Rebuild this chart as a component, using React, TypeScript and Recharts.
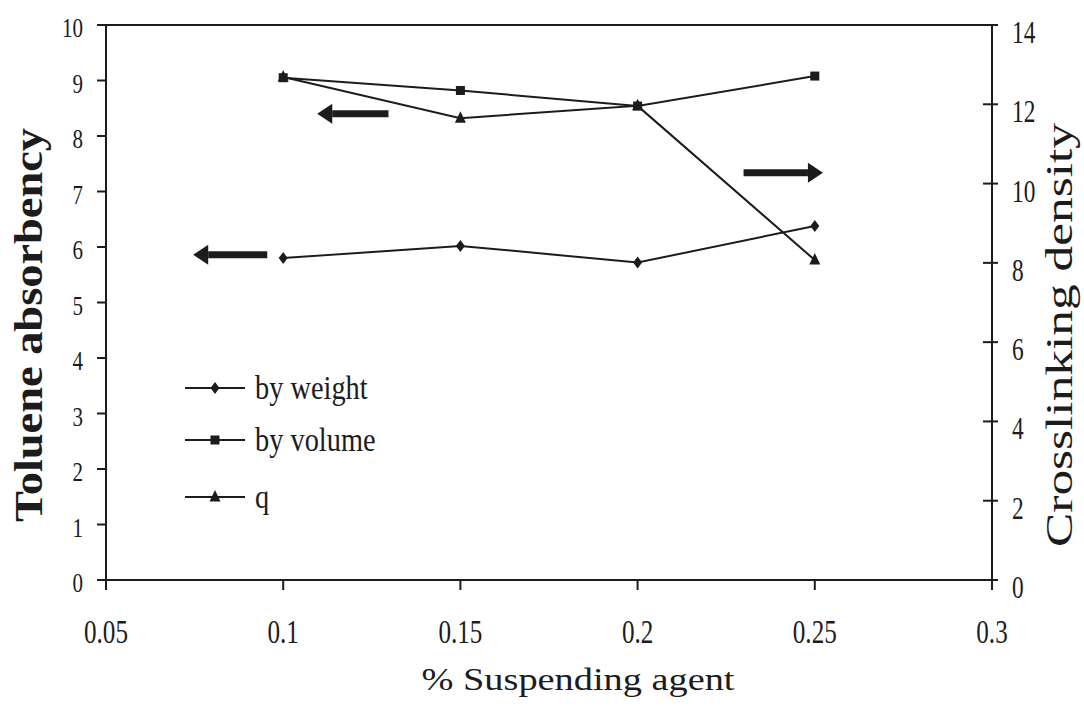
import React from 'react'
import { LineChart, Line, XAxis, YAxis, ReferenceLine, Label } from 'recharts'

const INK = '#1c1c1c'
const SERIF = '"Liberation Serif", "Times New Roman", serif'

// % suspending agent
const X_VALUES = [0.1, 0.15, 0.2, 0.25]
// toluene absorbency (left axis)
const BY_WEIGHT = [5.8, 6.02, 5.72, 6.38]
const BY_VOLUME = [9.05, 8.82, 8.54, 9.08]
// crosslinking density (right axis)
const Q_VALUES = [12.69, 11.65, 11.96, 8.07]

const X_TICKS = [0.05, 0.1, 0.15, 0.2, 0.25, 0.3]
const LEFT_TICKS = [0, 1, 2, 3, 4, 5, 6, 7, 8, 9, 10]
const RIGHT_TICKS = [0, 2, 4, 6, 8, 10, 12, 14]

// arrows pointing each group of curves to its axis
const ARROWS = [
  { from: 0.1297, to: 0.1096, level: 8.4, axis: 'left' },
  { from: 0.0955, to: 0.0746, level: 5.86, axis: 'left' },
  { from: 0.2299, to: 0.2523, level: 10.27, axis: 'right' },
]

const LEGEND_ITEMS = [
  { name: 'by weight', marker: 'diamond' },
  { name: 'by volume', marker: 'square' },
  { name: 'q', marker: 'triangle' },
]

const data = X_VALUES.map((x, i) => ({
  x,
  weight: BY_WEIGHT[i],
  volume: BY_VOLUME[i],
  q: Q_VALUES[i],
}))

function marker(kind: string, cx: number, cy: number) {
  if (kind === 'diamond') {
    return <path d={`M${cx},${cy - 6}L${cx + 4.5},${cy}L${cx},${cy + 6}L${cx - 4.5},${cy}Z`} fill={INK} />
  }
  if (kind === 'square') {
    return <rect x={cx - 4.5} y={cy - 4.5} width={9} height={9} fill={INK} />
  }
  return <path d={`M${cx},${cy - 7}L${cx + 5.5},${cy + 4.5}L${cx - 5.5},${cy + 4.5}Z`} fill={INK} />
}

const dotOf = (kind: string) => (props: any) => (
  <g key={`${kind}-${props.index}`}>{marker(kind, props.cx, props.cy)}</g>
)

const LeftTick = ({ x, y, payload }: any) => (
  <g>
    <line x1={x - 9} y1={y} x2={x} y2={y} stroke={INK} strokeWidth={2} />
    <text
      transform={`translate(${x - 23},${y + 12}) scale(0.75,1)`}
      textAnchor="end"
      fontSize={28}
      fontFamily={SERIF}
      fill={INK}
    >
      {payload.value}
    </text>
  </g>
)

const RightTick = ({ x, y, payload }: any) => (
  <g>
    <line x1={x - 9} y1={y} x2={x + 6} y2={y} stroke={INK} strokeWidth={2} />
    <text
      transform={`translate(${x + 20},${y + 18}) scale(0.73,1)`}
      textAnchor="start"
      fontSize={32}
      fontFamily={SERIF}
      fill={INK}
    >
      {payload.value}
    </text>
  </g>
)

const BottomTick = ({ x, y, payload }: any) => (
  <g>
    <line x1={x} y1={y} x2={x} y2={y + 10} stroke={INK} strokeWidth={2} />
    <text
      transform={`translate(${x},${y + 63}) scale(0.74,1)`}
      textAnchor="middle"
      fontSize={34}
      fontFamily={SERIF}
      fill={INK}
    >
      {String(payload.value)}
    </text>
  </g>
)

const Arrow = (props: any) => {
  const { x1, y1, x2, y2 } = props
  const dir = x2 > x1 ? 1 : -1
  const base = x2 - dir * 15
  return (
    <g>
      <line x1={x1} y1={y1} x2={base} y2={y2} stroke={INK} strokeWidth={7} />
      <path d={`M${x2},${y2}L${base},${y2 - 10}L${base},${y2 + 10}Z`} fill={INK} />
    </g>
  )
}

// legend sits inside the plot, lower left
const LegendBox = () => (
  <svg width={240} height={160} style={{ position: 'absolute', left: 180, top: 360 }}>
    {LEGEND_ITEMS.map((item, i) => {
      const cy = [28, 80, 137][i]
      return (
        <g key={item.name}>
          <line x1={5} y1={cy} x2={65} y2={cy} stroke={INK} strokeWidth={2} />
          {marker(item.marker, 35, cy)}
          <text
            transform={`translate(75,${cy + 11}) scale(0.86,1)`}
            fontSize={33}
            fontFamily={SERIF}
            fill={INK}
          >
            {item.name}
          </text>
        </g>
      )
    })}
  </svg>
)

export default function App() {
  return (
    <div style={{ position: 'absolute', left: 0, top: 0, width: 1084, height: 713, background: '#fff' }}>
      <LineChart width={1084} height={713} data={data} margin={{ top: 25, right: 0, bottom: 0, left: 0 }}>
        <XAxis
          dataKey="x"
          type="number"
          domain={[0.05, 0.3]}
          ticks={X_TICKS}
          height={133}
          tickSize={0}
          tickMargin={0}
          tickLine={false}
          tick={<BottomTick />}
          axisLine={{ stroke: INK, strokeWidth: 2 }}
        >
          <Label
            content={() => (
              <text x={578} y={690} textAnchor="middle" fontSize={31} textLength={313} lengthAdjust="spacingAndGlyphs" fontFamily={SERIF} fill={INK}>
                % Suspending agent
              </text>
            )}
          />
        </XAxis>
        <YAxis
          yAxisId="left"
          domain={[0, 10]}
          ticks={LEFT_TICKS}
          width={106}
          tickSize={0}
          tickMargin={0}
          tickLine={false}
          tick={<LeftTick />}
          axisLine={{ stroke: INK, strokeWidth: 2 }}
        >
          <Label
            content={() => (
              <text transform="translate(42,325) rotate(-90)" textAnchor="middle" fontSize={40} fontWeight="bold" textLength={394} lengthAdjust="spacingAndGlyphs" fontFamily={SERIF} fill={INK}>
                Toluene absorbency
              </text>
            )}
          />
        </YAxis>
        <YAxis
          yAxisId="right"
          orientation="right"
          domain={[0, 14]}
          ticks={RIGHT_TICKS}
          width={92}
          tickSize={0}
          tickMargin={0}
          tickLine={false}
          tick={<RightTick />}
          axisLine={{ stroke: INK, strokeWidth: 2 }}
        >
          <Label
            content={() => (
              <text transform="translate(1072,335) rotate(-90)" textAnchor="middle" fontSize={38} textLength={424} lengthAdjust="spacingAndGlyphs" fontFamily={SERIF} fill={INK}>
                Crosslinking density
              </text>
            )}
          />
        </YAxis>
        <ReferenceLine yAxisId="left" y={10} stroke={INK} strokeWidth={2} />
        {ARROWS.map((a, i) => (
          <ReferenceLine
            key={i}
            yAxisId={a.axis}
            segment={[{ x: a.from, y: a.level }, { x: a.to, y: a.level }]}
            shape={<Arrow />}
          />
        ))}
        <Line yAxisId="left" type="linear" dataKey="weight" name="by weight" stroke={INK} strokeWidth={2} dot={dotOf('diamond')} activeDot={false} isAnimationActive={false} />
        <Line yAxisId="left" type="linear" dataKey="volume" name="by volume" stroke={INK} strokeWidth={2} dot={dotOf('square')} activeDot={false} isAnimationActive={false} />
        <Line yAxisId="right" type="linear" dataKey="q" name="q" stroke={INK} strokeWidth={2} dot={dotOf('triangle')} activeDot={false} isAnimationActive={false} />
      </LineChart>
      <LegendBox />
    </div>
  )
}
